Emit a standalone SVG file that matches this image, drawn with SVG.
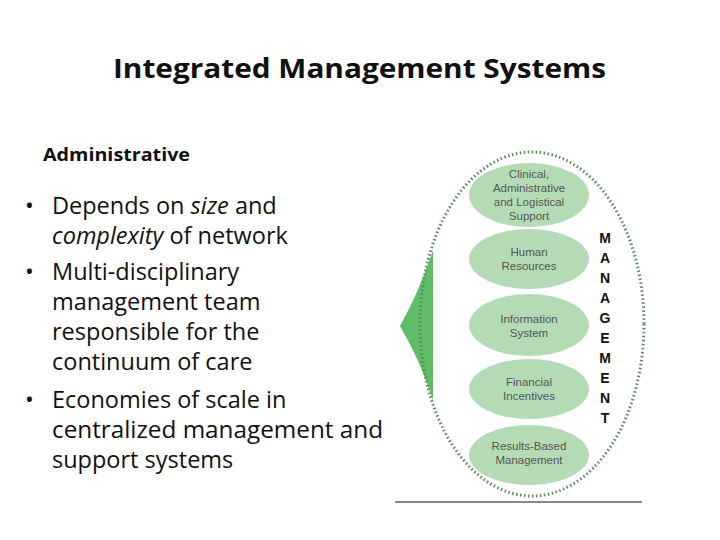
<svg xmlns="http://www.w3.org/2000/svg" width="720" height="540" viewBox="0 0 720 540">
<style>
.t{font-family:"Open Sans","Liberation Sans",sans-serif}
.c{font-family:"Liberation Sans",Arial,sans-serif;font-size:11.5px;fill:#555;text-anchor:middle}
.e{fill:#b5dbb6}
.m{font-family:"Liberation Sans",Arial,sans-serif;font-size:14px;font-weight:bold;fill:#111;text-anchor:middle}
.b{font-family:"Open Sans","Liberation Sans",sans-serif;font-size:23.5px;fill:#111}
</style>
<rect width="720" height="540" fill="#fff"/>
<text x="113" y="78" font-size="26" font-weight="bold" class="t" fill="#111" textLength="493" lengthAdjust="spacingAndGlyphs">Integrated Management Systems</text>
<text x="43" y="161" font-size="18" font-weight="bold" class="t" fill="#111" textLength="147" lengthAdjust="spacingAndGlyphs">Administrative</text>
<g id="bullets" class="b">
<text x="25" y="214">•</text><text x="52" y="214">Depends on <tspan font-style="italic">size</tspan> and</text>
<text x="52" y="244"><tspan font-style="italic">complexity</tspan> of network</text>
<text x="25" y="280">•</text><text x="52" y="280">Multi-disciplinary</text>
<text x="52" y="310">management team</text>
<text x="52" y="340">responsible for the</text>
<text x="52" y="370">continuum of care</text>
<text x="25" y="408">•</text><text x="52" y="408">Economies of scale in</text>
<text x="52" y="438" textLength="331" lengthAdjust="spacingAndGlyphs">centralized management and</text>
<text x="52" y="468">support systems</text>
</g>
<path id="wedge" d="M400,326 Q420,290 433,250 L433,400 Q420,360 400,326 Z" fill="#5fbd6a"/>
<ellipse id="outer" cx="532" cy="324" rx="112" ry="172" fill="none" stroke="#5a8a5a" stroke-width="3" stroke-dasharray="1.5 2.5"/>
<g id="n1"><ellipse class="e" cx="529" cy="195" rx="60" ry="32"/><text class="c" x="529" y="178">Clinical,</text><text class="c" x="529" y="192">Administrative</text><text class="c" x="529" y="206">and Logistical</text><text class="c" x="529" y="220">Support</text></g>
<g id="n2"><ellipse class="e" cx="529" cy="259" rx="60" ry="30"/><text class="c" x="529" y="256">Human</text><text class="c" x="529" y="270">Resources</text></g>
<g id="n3"><ellipse class="e" cx="529" cy="325" rx="60" ry="31"/><text class="c" x="529" y="323">Information</text><text class="c" x="529" y="337">System</text></g>
<g id="n4"><ellipse class="e" cx="529" cy="389" rx="60" ry="30"/><text class="c" x="529" y="386">Financial</text><text class="c" x="529" y="400">Incentives</text></g>
<g id="n5"><ellipse class="e" cx="529" cy="455" rx="60" ry="30"/><text class="c" x="529" y="450">Results-Based</text><text class="c" x="529" y="464">Management</text></g>
<g id="mg" class="m">
<text x="605" y="243">M</text><text x="605" y="263">A</text><text x="605" y="283">N</text><text x="605" y="303">A</text><text x="605" y="323">G</text><text x="605" y="343">E</text><text x="605" y="363">M</text><text x="605" y="383">E</text><text x="605" y="403">N</text><text x="605" y="423">T</text>
</g>
<line x1="395" y1="502" x2="642" y2="502" stroke="#888" stroke-width="2"/>
</svg>
